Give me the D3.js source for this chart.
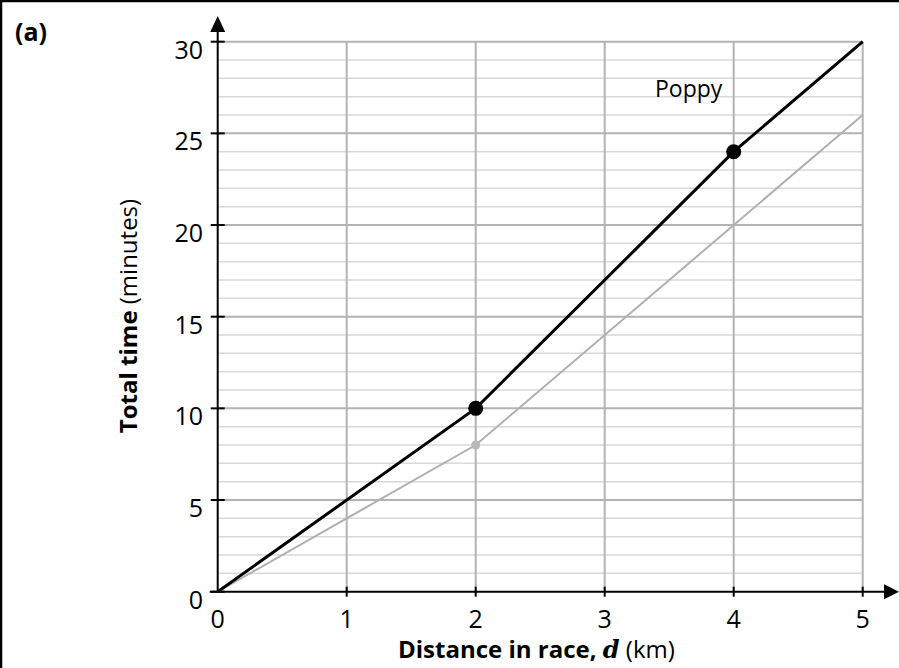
<!DOCTYPE html>
<html>
<head>
<meta charset="utf-8">
<script src="https://cdn.jsdelivr.net/npm/d3@7"></script>
<style>
  body { margin: 0; background: #fff; }
  svg { display: block; font-family: "Open Sans", "Noto Sans", sans-serif; }
</style>
</head>
<body>
<div id="chart"></div>
<script>
// --- data ---
const poppyDistance = [0, 2, 4, 5];
const poppyTime = [0, 10, 24, 30];
const poppyMarked = [2, 4];

const otherDistance = [0, 2, 5];
const otherTime = [0, 8, 26];
const otherMarked = [2];

const xTicks = [0, 1, 2, 3, 4, 5];
const yTicks = [0, 5, 10, 15, 20, 25, 30];
const yMinor = d3.range(1, 30);

const width = 899;
const height = 668;

const x = d3.scaleLinear().domain([0, 5]).range([217.7, 862.7]);
const y = d3.scaleLinear().domain([0, 30]).range([591.7, 41.7]);

const svg = d3.select("#chart").append("svg")
  .attr("width", width)
  .attr("height", height);

// frame (top + left only)
svg.append("line").attr("x1", 0).attr("x2", width).attr("y1", 1).attr("y2", 1)
  .attr("stroke", "#000").attr("stroke-width", 2.5);
svg.append("line").attr("x1", 1).attr("x2", 1).attr("y1", 0).attr("y2", height)
  .attr("stroke", "#000").attr("stroke-width", 2.5);

// grid
const grid = svg.append("g");
grid.selectAll(".minor").data(yMinor.filter(v => v % 5 !== 0)).enter().append("line")
  .attr("x1", x(0)).attr("x2", x(5))
  .attr("y1", d => y(d)).attr("y2", d => y(d))
  .attr("stroke", "#d9d9d9").attr("stroke-width", 1.5);
grid.selectAll(".major").data(yTicks.filter(v => v > 0)).enter().append("line")
  .attr("x1", x(0)).attr("x2", x(5))
  .attr("y1", d => y(d)).attr("y2", d => y(d))
  .attr("stroke", "#b3b3b3").attr("stroke-width", 2);
grid.selectAll(".vert").data(xTicks.filter(v => v > 0)).enter().append("line")
  .attr("x1", d => x(d)).attr("x2", d => x(d))
  .attr("y1", y(0)).attr("y2", y(30))
  .attr("stroke", "#b3b3b3").attr("stroke-width", 2);

// axes with arrows
const axes = svg.append("g").attr("stroke", "#000").attr("stroke-width", 2);
axes.append("line").attr("x1", x(0) - 8).attr("x2", 886).attr("y1", y(0)).attr("y2", y(0));
axes.append("line").attr("x1", x(0)).attr("x2", x(0)).attr("y1", y(0)).attr("y2", 30);
svg.append("path")
  .attr("d", `M${x(0)},16 L${x(0) - 7.5},32 L${x(0) + 7.5},32 Z`).attr("fill", "#000");
svg.append("path")
  .attr("d", `M899,${y(0)} L884,${y(0) - 7.5} L884,${y(0) + 7.5} Z`).attr("fill", "#000");

axes.selectAll(".yt").data(yTicks).enter().append("line")
  .attr("x1", x(0) - 7).attr("x2", x(0) + 7)
  .attr("y1", d => y(d)).attr("y2", d => y(d));
axes.selectAll(".xt").data(xTicks.filter(v => v > 0)).enter().append("line")
  .attr("x1", d => x(d)).attr("x2", d => x(d))
  .attr("y1", y(0) - 5).attr("y2", y(0) + 5);

// tick labels
svg.selectAll(".ylab").data(yTicks).enter().append("text")
  .attr("x", 203).attr("y", d => y(d) + 17)
  .attr("text-anchor", "end").attr("font-size", 25)
  .text(d => d);
svg.selectAll(".xlab").data(xTicks).enter().append("text")
  .attr("x", d => x(d)).attr("y", 628)
  .attr("text-anchor", "middle").attr("font-size", 25)
  .text(d => d);

// axis titles
const xt = svg.append("text").attr("x", 398).attr("y", 658)
  .attr("text-anchor", "start").attr("font-size", 24);
xt.append("tspan").attr("font-weight", "bold").text("Distance in race, ");
xt.append("tspan").attr("font-weight", "bold").attr("font-style", "italic")
  .attr("font-family", "'DejaVu Serif', serif").text("d");
xt.append("tspan").text(" (km)");

const yt = svg.append("text")
  .attr("transform", "translate(137,316) rotate(-90)")
  .attr("text-anchor", "middle").attr("font-size", 24);
yt.append("tspan").attr("font-weight", "bold").text("Total time");
yt.append("tspan").text(" (minutes)");

svg.append("text").attr("x", 15).attr("y", 41)
  .attr("font-size", 25).attr("font-weight", "bold").text("(a)");

// lines
const line = d3.line().x(d => x(d[0])).y(d => y(d[1]));

svg.append("path")
  .datum(d3.zip(otherDistance, otherTime))
  .attr("d", line).attr("fill", "none")
  .attr("stroke", "#b0b0b0").attr("stroke-width", 2);
svg.selectAll(".om").data(otherMarked).enter().append("circle")
  .attr("cx", d => x(d))
  .attr("cy", d => y(otherTime[otherDistance.indexOf(d)]))
  .attr("r", 4.5).attr("fill", "#b8b8b8");

svg.append("path")
  .datum(d3.zip(poppyDistance, poppyTime))
  .attr("d", line).attr("fill", "none")
  .attr("stroke", "#000").attr("stroke-width", 3);
svg.selectAll(".pm").data(poppyMarked).enter().append("circle")
  .attr("cx", d => x(d))
  .attr("cy", d => y(poppyTime[poppyDistance.indexOf(d)]))
  .attr("r", 7.5).attr("fill", "#000");

svg.append("text").attr("x", 655).attr("y", 97)
  .attr("font-size", 23).text("Poppy");
</script>
</body>
</html>
